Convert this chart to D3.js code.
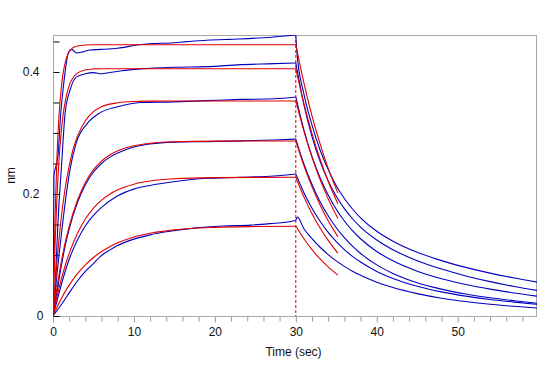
<!DOCTYPE html>
<html><head><meta charset="utf-8">
<script src="https://cdn.jsdelivr.net/npm/d3@7/dist/d3.min.js"></script>
<style>
body{margin:0;background:#fff}
svg{display:block}
text{font-family:"Liberation Sans",Arial,sans-serif;fill:#111}
</style>
</head><body>
<svg id="chart" width="547" height="366"></svg>
<script>
// ---- data: [time (sec), response (nm)] ----
const measuredAssoc = [
  [[0,0],[0.12,0.23],[0.35,0.245],[0.65,0.267],[0.9,0.322],[1.3,0.378],[1.6,0.41],[1.9,0.432],[2.3,0.437],[2.9,0.431],[3.7,0.433],[4.6,0.436],[6,0.437],[8,0.439],[10.8,0.445],[15,0.448],[19,0.452],[23,0.454],[27,0.457],[30,0.4605]],
  [[0,0],[0.3,0.06],[0.6,0.15],[1.07,0.25],[1.5,0.333],[2.1,0.370],[2.9,0.392],[4,0.397],[5,0.399],[6,0.397],[7,0.399],[8.5,0.402],[10.8,0.405],[14.9,0.4077],[19,0.4087],[23.2,0.412],[27.3,0.4136],[30,0.4148]],
  [[0,0],[0.5,0.07],[1,0.13],[1.7,0.205],[2.1,0.24],[2.9,0.285],[4.2,0.315],[5.8,0.333],[8,0.343],[10.8,0.350],[14.9,0.351],[19,0.353],[23.2,0.355],[27.3,0.356],[30,0.359]],
  [[0,0],[0.5,0.04],[1,0.08],[1.5,0.115],[2,0.143],[3,0.185],[4,0.215],[5,0.236],[6,0.250],[7,0.260],[8,0.267],[10,0.277],[12,0.282],[15,0.285],[19,0.2858],[23.2,0.287],[27.3,0.2885],[30,0.290]],
  [[0,0],[0.5,0.025],[1,0.05],[2,0.093],[3,0.124],[4,0.148],[5,0.165],[6,0.178],[8,0.197],[10,0.208],[12,0.214],[14.9,0.220],[19,0.2257],[23.2,0.2274],[27.3,0.2295],[30,0.2328]],
  [[0,0],[1,0.018],[2.1,0.040],[3,0.057],[4,0.073],[5,0.086],[5.8,0.097],[7,0.108],[7.9,0.115],[10,0.126],[12,0.133],[14,0.138],[17.4,0.144],[21,0.1475],[24.4,0.149],[27.3,0.152],[29,0.154],[30,0.157]]
];
const measuredDiss = [
  [[30,0.460],[30.15,0.430],[31,0.364],[32,0.313],[33,0.272],[34,0.240],[35,0.2135],[36,0.1926],[37,0.1754],[38,0.161],[40,0.1389],[42,0.1227],[45,0.1045],[48,0.0908],[51,0.0797],[54,0.0703],[57,0.0622],[59.8,0.0555]],
  [[30,0.415],[31,0.3465],[32,0.294],[33,0.2535],[34,0.2215],[35,0.1962],[36,0.176],[37,0.1594],[38,0.1457],[40,0.1246],[42,0.1086],[45,0.0906],[48,0.0769],[51,0.0657],[54,0.0563],[57,0.0483],[59.8,0.042]],
  [[30,0.359],[31,0.305],[32,0.2616],[33,0.2266],[34,0.1982],[35,0.1749],[36,0.1557],[37,0.1398],[38,0.1266],[40,0.1058],[42,0.0904],[45,0.0735],[48,0.0612],[51,0.0517],[54,0.0441],[57,0.0377],[59.8,0.0325]],
  [[30,0.290],[31,0.2492],[32,0.2156],[33,0.1874],[34,0.1643],[35,0.1447],[36,0.1283],[37,0.1144],[38,0.1025],[40,0.0838],[42,0.0697],[45,0.0545],[48,0.044],[51,0.036],[54,0.0298],[57,0.025],[59.8,0.021]],
  [[30,0.233],[31,0.2022],[32,0.1766],[33,0.1552],[34,0.1371],[35,0.1218],[36,0.1088],[37,0.0978],[38,0.0884],[40,0.073],[42,0.0614],[45,0.0488],[48,0.0396],[51,0.0326],[54,0.0271],[57,0.0228],[59.8,0.019]],
  [[30,0.157],[30.2,0.162],[31,0.143],[32,0.1267],[33,0.1127],[34,0.1007],[35,0.0903],[36,0.0814],[37,0.0735],[38,0.0667],[40,0.0554],[42,0.0466],[45,0.0367],[48,0.0292],[51,0.0237],[54,0.0193],[57,0.0159],[59.8,0.013]]
];
const fitAssoc = [
  [[0,0],[0.25,0.161],[0.5,0.264],[0.75,0.330],[1,0.371],[1.25,0.398],[1.5,0.415],[2,0.433],[2.5,0.440],[3,0.4427],[4,0.4443],[5,0.4447],[30,0.4447]],
  [[0,0],[0.25,0.1155],[0.5,0.198],[0.75,0.257],[1,0.299],[1.25,0.330],[1.5,0.351],[2,0.378],[2.5,0.391],[3,0.398],[4,0.4035],[5,0.405],[6,0.4054],[30,0.4054]],
  [[0,0],[0.5,0.091],[1,0.159],[1.5,0.209],[2,0.246],[2.5,0.274],[3,0.294],[4,0.320],[5,0.335],[6,0.343],[8,0.3495],[10,0.3516],[12,0.3522],[15,0.3525],[30,0.3525]],
  [[0,0],[0.5,0.047],[1,0.087],[1.5,0.120],[2,0.147],[3,0.189],[4,0.219],[5,0.240],[6,0.254],[7,0.264],[8,0.271],[10,0.279],[12,0.283],[15,0.2857],[20,0.2867],[30,0.2869]],
  [[0,0],[0.5,0.0316],[1,0.0589],[1.5,0.0824],[2,0.1026],[3,0.1349],[4,0.159],[5,0.1767],[6,0.1899],[7,0.1996],[8,0.2068],[10,0.2161],[12,0.2212],[15,0.2249],[20,0.2268],[25,0.2273],[30,0.2274]],
  [[0,0],[1,0.028],[2,0.0506],[3,0.0689],[4,0.0838],[5,0.0959],[6,0.1056],[7,0.1136],[8,0.120],[10,0.1295],[12,0.1357],[15,0.1412],[20,0.1453],[25,0.1467],[30,0.1472]]
];
const fitDiss = [
  [[30,0.4447],[31,0.382],[32,0.328],[33,0.282],[34,0.242],[35.2,0.2017]],
  [[30,0.4054],[31,0.348],[32,0.299],[33,0.257],[34,0.221],[35.2,0.1839]],
  [[30,0.3525],[31,0.303],[32,0.260],[33,0.2235],[34,0.192],[35.2,0.160]],
  [[30,0.2869],[31,0.2465],[32,0.2117],[33,0.182],[34,0.156],[35.2,0.130]],
  [[30,0.2274],[31,0.1953],[32,0.1678],[33,0.1442],[34,0.124],[35.2,0.1031]],
  [[30,0.1475],[31,0.1267],[32,0.1089],[33,0.0935],[34,0.0804],[35.2,0.0669]]
];
const stepTime = 30;
const xMajorTicks = [0,10,20,30,40,50];
const xMinorTicks = d3.range(0, 60, 2);
const yTicks = [0,0.05,0.1,0.15,0.2,0.25,0.3,0.35,0.4,0.45];
const yTickLabels = [0,0.2,0.4];
const xTitle = "Time (sec)";
const yTitle = "nm";

// ---- layout ----
const L = 53, R = 537, T = 35, B = 316;
const svg = d3.select("#chart");
const x = d3.scaleLinear().domain([0, 59.8]).range([L, R]);
const y = d3.scaleLinear().domain([0, 0.4606]).range([B, T]);

svg.append("defs").append("clipPath").attr("id","clip")
  .append("rect").attr("x",L).attr("y",T).attr("width",R-L).attr("height",B-T);

// frame
svg.append("rect").attr("x",L+0.5).attr("y",T+0.5).attr("width",R-L-1).attr("height",B-T)
  .attr("fill","none").attr("stroke","#a8a8a8").attr("stroke-width",1);

// x axis ticks (outside, below)
const xAxisMinor = d3.axisBottom(x).tickValues(xMinorTicks.filter(v=>v%10!==0)).tickSize(5).tickFormat("");
const xAxisMajor = d3.axisBottom(x).tickValues(xMajorTicks).tickSize(6).tickPadding(5).tickFormat(d3.format("d"));
const gxm = svg.append("g").attr("transform",`translate(0,${B+0.5})`).call(xAxisMinor);
const gx = svg.append("g").attr("transform",`translate(0,${B+0.5})`).call(xAxisMajor);
[gxm,gx].forEach(g=>{
  g.select(".domain").remove();
  g.selectAll(".tick line").attr("stroke","#9a9a9a");
});
gx.selectAll(".tick text").attr("font-size",12).attr("fill","#111").attr("font-family","Liberation Sans, Arial, sans-serif");

// y axis ticks (inside)
const yAxis = d3.axisLeft(y).tickValues(yTicks).tickSize(-6)
  .tickFormat(d => yTickLabels.some(v=>Math.abs(v-d)<1e-9) ? (d===0?"0":d3.format(".1f")(d)) : "");
const gy = svg.append("g").attr("transform",`translate(${L+0.5},0)`).call(yAxis);
gy.select(".domain").remove();
gy.selectAll(".tick line").attr("stroke","#000");
gy.selectAll(".tick text").attr("font-size",12).attr("fill","#111")
  .attr("font-family","Liberation Sans, Arial, sans-serif")
  .attr("x", d => d===0 ? -10 : -14);

// titles
svg.append("text").attr("x",293.5).attr("y",356).attr("text-anchor","middle")
  .attr("font-size",12).text(xTitle);
svg.append("text").attr("transform",`translate(15,${(T+B)/2}) rotate(-90)`)
  .attr("text-anchor","middle").attr("font-size",12).text(yTitle);

// curves
const line = d3.line().x(d=>x(d[0])).y(d=>y(d[1])).curve(d3.curveMonotoneX);
const plot = svg.append("g").attr("clip-path","url(#clip)");
const blue = "#0000c0", red = "#e00000";
measuredAssoc.concat(measuredDiss).forEach(s=>{
  plot.append("path").attr("d",line(s)).attr("fill","none").attr("stroke",blue).attr("stroke-width",1.1);
});
fitAssoc.concat(fitDiss).forEach(s=>{
  plot.append("path").attr("d",line(s)).attr("fill","none").attr("stroke",red).attr("stroke-width",1.1);
});

// step marker
svg.append("line").attr("x1",x(stepTime)).attr("x2",x(stepTime)).attr("y1",T).attr("y2",B)
  .attr("stroke",red).attr("stroke-width",1).attr("stroke-dasharray","3,2");
</script>
</body></html>
